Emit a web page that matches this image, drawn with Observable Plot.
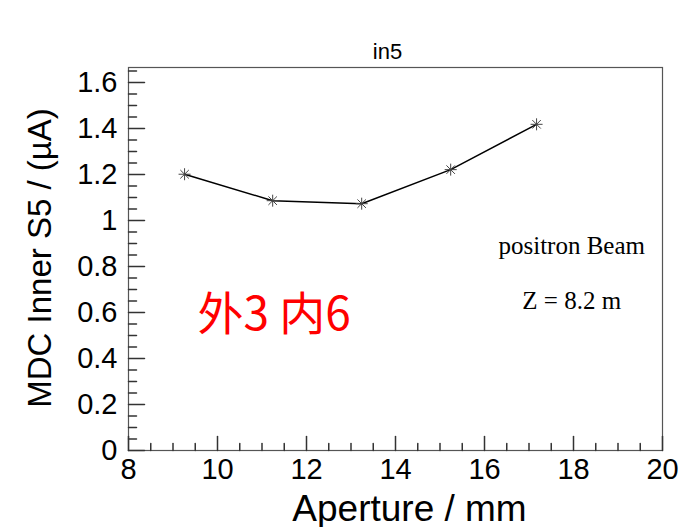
<!DOCTYPE html>
<html>
<head>
<meta charset="utf-8">
<script src="https://cdn.jsdelivr.net/npm/d3@7"></script>
<script src="https://cdn.jsdelivr.net/npm/@observablehq/plot@0.6"></script>
<style>
  html, body { margin: 0; padding: 0; background: #fff; }
  #chart svg { display: block; }
</style>
</head>
<body>
<div id="chart"></div>
<script>
// ---- data ----
const apertureMM = [9.26, 11.24, 13.24, 15.24, 17.17];
const currentUA  = [1.201, 1.086, 1.073, 1.221, 1.418];

const xTickValues = [8, 10, 12, 14, 16, 18, 20];
const yTickValues = [0, 0.2, 0.4, 0.6, 0.8, 1, 1.2, 1.4, 1.6];

const chartTitle = "in5";
const xTitle = "Aperture / mm";
const yTitle = "MDC Inner S5 / (\u00b5A)";

const noteLabels = ["positron Beam", "Z = 8.2 m"];
const noteX = [17.96, 17.96];
const noteY = [0.89, 0.65];

const redLabel = ["外3 内6"];
const redX = [9.55];
const redY = [0.59];

// ---- build tables ----
const points = apertureMM.map((x, i) => ({x, y: currentUA[i]}));
const notes = noteLabels.map((t, i) => ({t, x: noteX[i], y: noteY[i]}));
const reds = redLabel.map((t, i) => ({t, x: redX[i], y: redY[i]}));

const xMinor = d3.range(8, 20.001, 0.5).filter(v => !xTickValues.includes(v));
const yMinor = d3.range(0, 1.6601, 0.05).map(v => +v.toFixed(2)).filter(v => !yTickValues.some(t => Math.abs(t - v) < 1e-9));

const tickShape = { draw(context, l) { context.moveTo(0, 0); context.lineTo(0, -l); } };
const starSymbol = {
  draw(context, size) {
    const r = Math.sqrt(size / Math.PI);
    const d = r * Math.SQRT1_2;
    context.moveTo(-r, 0); context.lineTo(r, 0);
    context.moveTo(0, -r); context.lineTo(0, r);
    context.moveTo(-d, -d); context.lineTo(d, d);
    context.moveTo(-d, d); context.lineTo(d, -d);
  }
};

const sans = "'Liberation Sans', Arial, Helvetica, sans-serif";
const serif = "'Liberation Serif', 'Times New Roman', serif";

const chart = Plot.plot({
  width: 681,
  height: 527,
  marginLeft: 128,
  marginRight: 19,
  marginTop: 67,
  marginBottom: 77,
  style: { fontFamily: sans, background: "#fff", overflow: "visible" },
  x: { domain: [8, 20] },
  y: { domain: [0, 1.665] },
  marks: [
    Plot.frame({ stroke: "#555", strokeWidth: 1.2 }),
    // tick labels
    Plot.axisX(xTickValues, { tickSize: 0, tickPadding: 8, fontSize: 29, label: null, tickFormat: d3.format("~g") }),
    Plot.axisY(yTickValues, { tickSize: 0, tickPadding: 11, fontSize: 29, label: null, tickFormat: d3.format("~g") }),
    // inward ticks
    Plot.vector(xTickValues, { x: d => d, frameAnchor: "bottom", anchor: "start", length: 14, rotate: 0, shape: tickShape, stroke: "#333" }),
    Plot.vector(xMinor, { x: d => d, frameAnchor: "bottom", anchor: "start", length: 7, rotate: 0, shape: tickShape, stroke: "#333" }),
    Plot.vector(yTickValues, { y: d => d, frameAnchor: "left", anchor: "start", length: 16, rotate: 90, shape: tickShape, stroke: "#333" }),
    Plot.vector(yMinor, { y: d => d, frameAnchor: "left", anchor: "start", length: 8, rotate: 90, shape: tickShape, stroke: "#333" }),
    // axis titles and chart title
    Plot.text([xTitle], { frameAnchor: "bottom", textAnchor: "middle", lineAnchor: "middle", dy: 59, dx: 14, fontSize: 37, fontFamily: sans }),
    Plot.text([yTitle], { frameAnchor: "left", textAnchor: "middle", lineAnchor: "middle", rotate: -90, dx: -88, dy: -1, fontSize: 33, fontFamily: sans }),
    Plot.text([chartTitle], { frameAnchor: "top", textAnchor: "middle", lineAnchor: "middle", dy: -16, dx: -8, fontSize: 22, fontFamily: sans }),
    // data
    Plot.line(points, { x: "x", y: "y", stroke: "#000", strokeWidth: 1.5 }),
    Plot.dot(points, { x: "x", y: "y", symbol: starSymbol, r: 6, stroke: "#444", fill: "none", strokeWidth: 1 }),
    // annotations
    Plot.text(notes, { x: "x", y: "y", text: "t", fontSize: 25, fontFamily: serif, fill: "#000" }),
    Plot.text(reds, { x: "x", y: "y", text: "t", textAnchor: "start", fontSize: 46, fontFamily: "'Noto Sans CJK SC', sans-serif", fill: "#ff0000" })
  ]
});

document.getElementById("chart").appendChild(chart);
</script>
</body>
</html>
